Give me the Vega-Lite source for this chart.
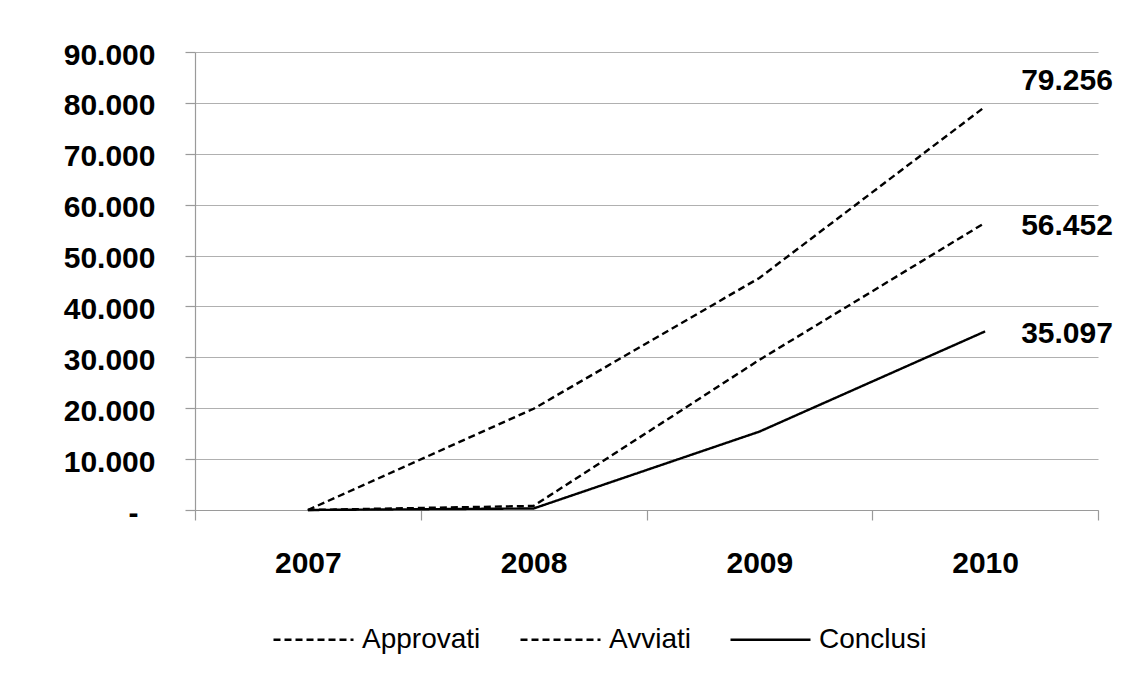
{
  "$schema": "https://vega.github.io/schema/vega-lite/v6.json",
  "autosize": {"type": "none"},
  "width": 903,
  "height": 458,
  "padding": {"left": 195, "top": 52, "right": 30, "bottom": 172},
  "background": "white",
  "config": {
    "font": "Liberation Sans",
    "locale": {"number": {"decimal": ",", "thousands": ".", "grouping": [3], "currency": ["€", ""]}},
    "view": {"stroke": null},
    "axis": {"labelFont": "Liberation Sans", "labelColor": "black", "domainColor": "#9a9a9a", "tickColor": "#9a9a9a", "gridColor": "#b0b0b0", "domainWidth": 1.2, "tickWidth": 1.2, "gridWidth": 1.2}
  },
  "data": {
    "values": [
      {"anno": "2007", "serie": "Approvati", "valore": 0},
      {"anno": "2008", "serie": "Approvati", "valore": 19900},
      {"anno": "2009", "serie": "Approvati", "valore": 45600},
      {"anno": "2010", "serie": "Approvati", "valore": 79256},
      {"anno": "2007", "serie": "Avviati", "valore": 0},
      {"anno": "2008", "serie": "Avviati", "valore": 800},
      {"anno": "2009", "serie": "Avviati", "valore": 29500},
      {"anno": "2010", "serie": "Avviati", "valore": 56452},
      {"anno": "2007", "serie": "Conclusi", "valore": 0},
      {"anno": "2008", "serie": "Conclusi", "valore": 300},
      {"anno": "2009", "serie": "Conclusi", "valore": 15400},
      {"anno": "2010", "serie": "Conclusi", "valore": 35097}
    ]
  },
  "encoding": {
    "x": {
      "field": "anno", "type": "ordinal",
      "scale": {"type": "band", "paddingInner": 0, "paddingOuter": 0},
      "axis": {
        "title": null, "labelAngle": 0, "labelFontSize": 30, "labelFontWeight": "bold",
        "tickBand": "extent", "tickSize": 10, "labelPadding": 28, "grid": false
      }
    },
    "y": {
      "field": "valore", "type": "quantitative",
      "scale": {"domain": [0, 90000], "nice": false},
      "axis": {
        "title": null, "values": [0, 10000, 20000, 30000, 40000, 50000, 60000, 70000, 80000, 90000],
        "format": ",.0f", "labelExpr": "datum.value === 0 ? '-' : datum.label",
        "labelFontSize": 30, "labelFontWeight": "bold", "tickSize": 10,
        "labelPadding": {"condition": {"test": "datum.value === 0", "value": 47}, "value": 30},
        "grid": true, "labelOffset": 3
      }
    }
  },
  "layer": [
    {
      "mark": {"type": "line", "color": "black", "strokeWidth": 2.4, "interpolate": "linear"},
      "encoding": {
        "strokeDash": {
          "field": "serie", "type": "nominal",
          "scale": {"domain": ["Approvati", "Avviati", "Conclusi"], "range": [[7, 4], [7, 4], [1, 0]]},
          "legend": {
            "title": null, "orient": "none", "direction": "horizontal",
            "legendX": 77, "legendY": 546,
            "symbolType": "stroke", "symbolSize": 6400, "symbolStrokeWidth": 2.4, "symbolStrokeColor": "black",
            "labelFontSize": 28, "labelColor": "black", "labelFont": "Liberation Sans",
            "labelOffset": 7, "columnPadding": 34
          }
        }
      }
    },
    {
      "transform": [{"filter": "datum.anno === '2010' && datum.serie === 'Approvati'"}],
      "mark": {"type": "text", "align": "left", "baseline": "middle", "dx": 36, "dy": -26, "fontSize": 30, "fontWeight": "bold", "color": "black"},
      "encoding": {"text": {"field": "valore", "type": "quantitative", "format": ",.0f"}}
    },
    {
      "transform": [{"filter": "datum.anno === '2010' && datum.serie !== 'Approvati'"}],
      "mark": {"type": "text", "align": "left", "baseline": "middle", "dx": 36, "dy": 3, "fontSize": 30, "fontWeight": "bold", "color": "black"},
      "encoding": {"text": {"field": "valore", "type": "quantitative", "format": ",.0f"}}
    }
  ]
}
